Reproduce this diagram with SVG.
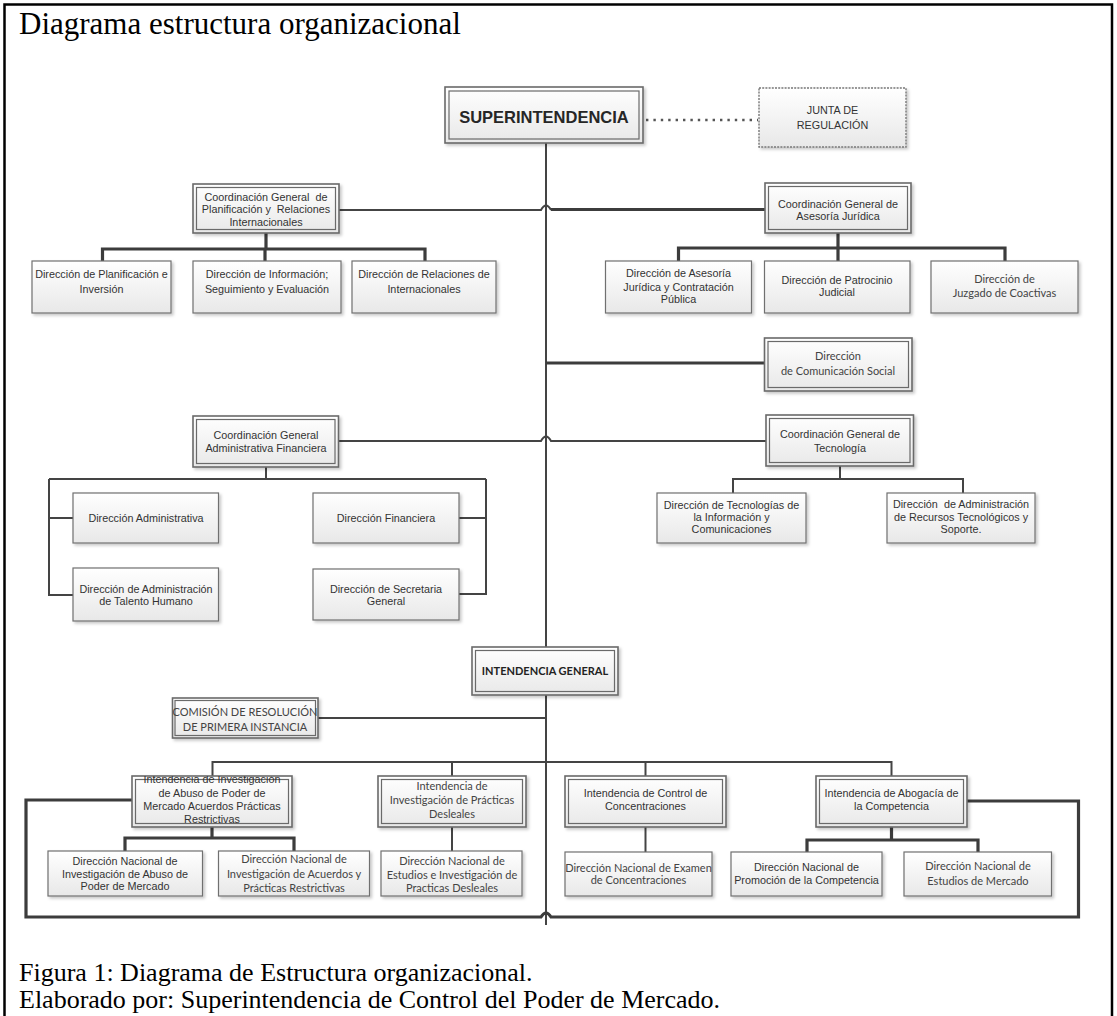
<svg xmlns="http://www.w3.org/2000/svg" width="1117" height="1016" viewBox="0 0 1117 1016">
  <defs>
    <linearGradient id="boxFill" x1="0" y1="0" x2="0" y2="1">
      <stop offset="0" stop-color="#ffffff"/>
      <stop offset="1" stop-color="#e8e8e8"/>
    </linearGradient>
    <filter id="shadow" x="-10%" y="-10%" width="125%" height="135%">
      <feDropShadow dx="2" dy="2" stdDeviation="1.6" flood-color="#000" flood-opacity="0.22"/>
    </filter>
    <clipPath id="clipAbuso">
      <rect x="132" y="776" width="160" height="51"/>
    </clipPath>
    <style>
      .frame { fill: none; stroke: #000; stroke-width: 2.5; }
      .outer { fill: url(#boxFill); stroke: #6a6a6a; stroke-width: 1.6; filter: url(#shadow); }
      .inner { fill: none; stroke: #6a6a6a; stroke-width: 1.2; }
      .single { fill: url(#boxFill); stroke: #707070; stroke-width: 1.2; filter: url(#shadow); }
      .dashed { fill: url(#boxFill); stroke: #777; stroke-width: 1.4; stroke-dasharray: 2 1.2; filter: url(#shadow); }
      .t { font-family: "Liberation Sans", Arial, sans-serif; font-size: 10.8px; fill: #333; text-anchor: middle; white-space: pre; }
      .c { font-family: Lato, "Open Sans", sans-serif; font-size: 11px; fill: #444; text-anchor: middle; }
      .big { font-family: "Liberation Sans", Arial, sans-serif; font-size: 16.5px; font-weight: bold; fill: #262626; text-anchor: middle; }
      .cb { font-family: Lato, "Open Sans", sans-serif; font-size: 11px; font-weight: bold; fill: #222; text-anchor: middle; }
      .serif { font-family: "Liberation Serif", "Times New Roman", serif; fill: #000; }
      .ln { fill: none; stroke: #444; stroke-width: 2; }
      .lnb { fill: none; stroke: #3c3c3c; stroke-width: 3.2; }
      .dot { fill: none; stroke: #555; stroke-width: 2.4; stroke-dasharray: 2.4 5; }
    </style>
  </defs>

  <rect width="1117" height="1016" fill="#fff"/>
  <rect class="frame" x="4.5" y="4.5" width="1107.5" height="1040"/>
  <text class="serif" x="19" y="34" font-size="31">Diagrama estructura organizacional</text>

  <!-- connectors -->
  <g id="connectors">
    <path class="ln" d="M546 143 V925"/>
    <path class="dot" d="M646 120 H758"/>
    <!-- Planificación / Asesoría Jurídica row, hopping over the trunk -->
    <path class="ln" d="M339 210 H541 Q546 201 551 210"/>
    <path class="lnb" d="M551 209.5 H765"/>
    <path class="lnb" d="M266 233 V249 M102.5 261 V249 H425 V261 M265 249 V261"/>
    <path class="lnb" d="M838 233 V248 M678.5 261 V248 H1005 V261 M838 248 V261"/>
    <path class="lnb" d="M546 363 H765"/>
    <!-- Administrativa / Tecnología row -->
    <path class="ln" d="M338.6 441 H541 Q546 432 551 441 H766"/>
    <path class="ln" d="M266 467 V479 M49 479 H486 M49 479 V595 H73 M49 518 H73 M486 479 V594 H459 M486 518 H459"/>
    <path class="ln" d="M840 466 V479 M733 493 V479 H963 V493"/>
    <path class="ln" d="M318 718 H546"/>
    <!-- intendencias -->
    <path class="ln" d="M212.5 776 V762 H891.5 V776 M452 762 V776 M645.5 762 V776"/>
    <path class="lnb" d="M212 827 V838 M125 851 V838 H294 V851"/>
    <path class="ln" d="M452 827 V851"/>
    <path class="ln" d="M645.5 827 V852"/>
    <path class="lnb" d="M891.5 827 V840 M807 852 V840 H978 V852"/>
    <path class="lnb" d="M132 800 H26 V917 H541 Q546 909 551 917 H1078.5 V801 H967"/>
  </g>

  <!-- nodes -->
  <g id="superintendencia">
    <rect class="outer" x="445" y="87" width="198" height="56"/>
    <rect class="inner" x="449" y="91" width="190" height="48"/>
    <text class="big" x="544" y="123">SUPERINTENDENCIA</text>
  </g>
  <g id="junta-regulacion">
    <rect class="dashed" x="759" y="88" width="147" height="59"/>
    <text class="t" font-size="11.5" fill="#444"><tspan x="832.5" y="114">JUNTA DE</tspan><tspan x="832.5" y="129">REGULACIÓN</tspan></text>
  </g>

  <g id="cg-planificacion">
    <rect class="outer" x="193" y="184" width="146" height="49"/>
    <rect class="inner" x="196.5" y="187.5" width="139" height="42"/>
    <text class="t" xml:space="preserve"><tspan x="266" y="201">Coordinación General  de</tspan><tspan x="266" y="213">Planificación y  Relaciones</tspan><tspan x="266" y="226">Internacionales</tspan></text>
  </g>
  <g id="d-planificacion-inversion">
    <rect class="single" x="32" y="261" width="139" height="52"/>
    <text class="t"><tspan x="101.5" y="278">Dirección de Planificación e</tspan><tspan x="101.5" y="293">Inversión</tspan></text>
  </g>
  <g id="d-informacion">
    <rect class="single" x="193" y="261" width="148" height="52"/>
    <text class="t"><tspan x="267" y="278">Dirección de Información;</tspan><tspan x="267" y="293">Seguimiento y Evaluación</tspan></text>
  </g>
  <g id="d-relaciones">
    <rect class="single" x="352" y="261" width="144" height="52"/>
    <text class="t"><tspan x="424" y="278">Dirección de Relaciones de</tspan><tspan x="424" y="293">Internacionales</tspan></text>
  </g>

  <g id="cg-asesoria-juridica">
    <rect class="outer" x="765" y="183" width="146" height="50"/>
    <rect class="inner" x="768.5" y="186.5" width="139" height="43"/>
    <text class="t"><tspan x="838" y="207.5">Coordinación General de</tspan><tspan x="838" y="219.5">Asesoría Jurídica</tspan></text>
  </g>
  <g id="d-asesoria-contratacion">
    <rect class="single" x="605.5" y="261" width="146" height="52"/>
    <text class="t"><tspan x="678.5" y="277">Dirección de Asesoría</tspan><tspan x="678.5" y="290.5">Jurídica y Contratación</tspan><tspan x="678.5" y="303">Pública</tspan></text>
  </g>
  <g id="d-patrocinio">
    <rect class="single" x="764.5" y="261" width="145.5" height="52"/>
    <text class="t"><tspan x="837" y="283.5">Dirección de Patrocinio</tspan><tspan x="837" y="296">Judicial</tspan></text>
  </g>
  <g id="d-coactivas">
    <rect class="single" x="931" y="261" width="147" height="52"/>
    <text class="c"><tspan x="1004.5" y="283">Dirección de</tspan><tspan x="1004.5" y="297">Juzgado de Coactivas</tspan></text>
  </g>

  <g id="d-comunicacion-social">
    <rect class="outer" x="764.5" y="338" width="147.5" height="53"/>
    <rect class="inner" x="768" y="341.5" width="140.5" height="46"/>
    <text class="c" font-size="11.5"><tspan x="838" y="360">Dirección</tspan><tspan x="838" y="375">de Comunicación Social</tspan></text>
  </g>

  <g id="cg-administrativa-financiera">
    <rect class="outer" x="193" y="416" width="145.5" height="51"/>
    <rect class="inner" x="196.5" y="419.5" width="138.5" height="44"/>
    <text class="t"><tspan x="266" y="438.5">Coordinación General</tspan><tspan x="266" y="451.5">Administrativa Financiera</tspan></text>
  </g>
  <g id="d-administrativa">
    <rect class="single" x="73" y="493" width="145.5" height="50"/>
    <text class="t" x="146" y="521.5">Dirección Administrativa</text>
  </g>
  <g id="d-financiera">
    <rect class="single" x="313" y="493" width="146" height="50"/>
    <text class="t" x="386" y="521.5">Dirección Financiera</text>
  </g>
  <g id="d-talento-humano">
    <rect class="single" x="73" y="568" width="145.5" height="53"/>
    <text class="t"><tspan x="146" y="592.5">Dirección de Administración</tspan><tspan x="146" y="605">de Talento Humano</tspan></text>
  </g>
  <g id="d-secretaria-general">
    <rect class="single" x="313" y="569" width="146" height="51"/>
    <text class="t"><tspan x="386" y="592.5">Dirección de Secretaria</tspan><tspan x="386" y="605">General</tspan></text>
  </g>

  <g id="cg-tecnologia">
    <rect class="outer" x="766" y="415" width="147.5" height="51"/>
    <rect class="inner" x="769.5" y="418.5" width="140.5" height="44"/>
    <text class="t"><tspan x="840" y="437.5">Coordinación General de</tspan><tspan x="840" y="451.5">Tecnología</tspan></text>
  </g>
  <g id="d-tecnologias-informacion">
    <rect class="single" x="657" y="493" width="149" height="50"/>
    <text class="t"><tspan x="731.5" y="509">Dirección de Tecnologías de</tspan><tspan x="731.5" y="521">la Información y</tspan><tspan x="731.5" y="533">Comunicaciones</tspan></text>
  </g>
  <g id="d-recursos-tecnologicos">
    <rect class="single" x="887" y="493" width="148" height="50"/>
    <text class="t" font-size="10.3" xml:space="preserve"><tspan x="961" y="508">Dirección  de Administración</tspan><tspan x="961" y="520.5">de Recursos Tecnológicos y</tspan><tspan x="961" y="533">Soporte.</tspan></text>
  </g>

  <g id="intendencia-general">
    <rect class="outer" x="472" y="647" width="146" height="48"/>
    <rect class="inner" x="475.5" y="650.5" width="139" height="41"/>
    <text class="cb" x="545" y="675">INTENDENCIA GENERAL</text>
  </g>
  <g id="comision-primera-instancia">
    <rect class="outer" x="172.5" y="698" width="145.5" height="40"/>
    <rect class="inner" x="175" y="700.5" width="140.5" height="35"/>
    <text class="c" font-size="11.2"><tspan x="245" y="716">COMISIÓN DE RESOLUCIÓN</tspan><tspan x="245" y="731">DE PRIMERA INSTANCIA</tspan></text>
  </g>

  <g id="i-abuso-poder">
    <rect class="outer" x="132" y="776" width="160" height="51"/>
    <rect class="inner" x="135.5" y="779.5" width="153" height="44"/>
    <text class="t" clip-path="url(#clipAbuso)"><tspan x="212" y="783">Intendencia de Investigación</tspan><tspan x="212" y="797">de Abuso de Poder de</tspan><tspan x="212" y="810">Mercado Acuerdos Prácticas</tspan><tspan x="212" y="822.5">Restrictivas</tspan></text>
  </g>
  <g id="i-practicas-desleales">
    <rect class="outer" x="378" y="776" width="148" height="51"/>
    <rect class="inner" x="381.5" y="779.5" width="141" height="44"/>
    <text class="c" font-size="11.5"><tspan x="452" y="790">Intendencia de</tspan><tspan x="452" y="804">Investigación de Prácticas</tspan><tspan x="452" y="818">Desleales</tspan></text>
  </g>
  <g id="i-control-concentraciones">
    <rect class="outer" x="565" y="776" width="161" height="51"/>
    <rect class="inner" x="568.5" y="779.5" width="154" height="44"/>
    <text class="t"><tspan x="645.5" y="797">Intendencia de Control de</tspan><tspan x="645.5" y="810">Concentraciones</tspan></text>
  </g>
  <g id="i-abogacia-competencia">
    <rect class="outer" x="816" y="776" width="151" height="51"/>
    <rect class="inner" x="819.5" y="779.5" width="144" height="44"/>
    <text class="t"><tspan x="891.5" y="797">Intendencia de Abogacía de</tspan><tspan x="891.5" y="810">la Competencia</tspan></text>
  </g>

  <g id="dn-abuso-poder">
    <rect class="single" x="48" y="851" width="154.5" height="45"/>
    <text class="t"><tspan x="125" y="865">Dirección Nacional de</tspan><tspan x="125" y="878">Investigación de Abuso de</tspan><tspan x="125" y="890">Poder de Mercado</tspan></text>
  </g>
  <g id="dn-acuerdos-practicas">
    <rect class="single" x="218.5" y="851" width="151" height="45"/>
    <text class="c" font-size="11.5"><tspan x="294" y="862.5">Dirección Nacional de</tspan><tspan x="294" y="878">Investigación de Acuerdos y</tspan><tspan x="294" y="892">Prácticas Restrictivas</tspan></text>
  </g>
  <g id="dn-estudios-desleales">
    <rect class="single" x="381" y="851" width="141" height="45"/>
    <text class="c" font-size="11.5"><tspan x="452" y="865">Dirección Nacional de</tspan><tspan x="452" y="878.5">Estudios e Investigación de</tspan><tspan x="452" y="892">Practicas Desleales</tspan></text>
  </g>
  <g id="dn-examen-concentraciones">
    <rect class="single" x="565" y="852" width="147" height="44"/>
    <text class="c" font-size="9.8"><tspan x="638.5" y="871.5">Dirección Nacional de Examen</tspan><tspan x="638.5" y="884">de Concentraciones</tspan></text>
  </g>
  <g id="dn-promocion-competencia">
    <rect class="single" x="731" y="852" width="151" height="44"/>
    <text class="t"><tspan x="806.5" y="871">Dirección Nacional de</tspan><tspan x="806.5" y="884">Promoción de la Competencia</tspan></text>
  </g>
  <g id="dn-estudios-mercado">
    <rect class="single" x="904" y="852" width="147.5" height="44"/>
    <text class="c" font-size="11.5"><tspan x="978" y="870">Dirección Nacional de</tspan><tspan x="978" y="884.5">Estudios de Mercado</tspan></text>
  </g>

  <text class="serif" font-size="26" x="19" y="981">Figura 1: Diagrama de Estructura organizacional.</text>
  <text class="serif" font-size="26" x="19" y="1008">Elaborado por: Superintendencia de Control del Poder de Mercado.</text>
</svg>
